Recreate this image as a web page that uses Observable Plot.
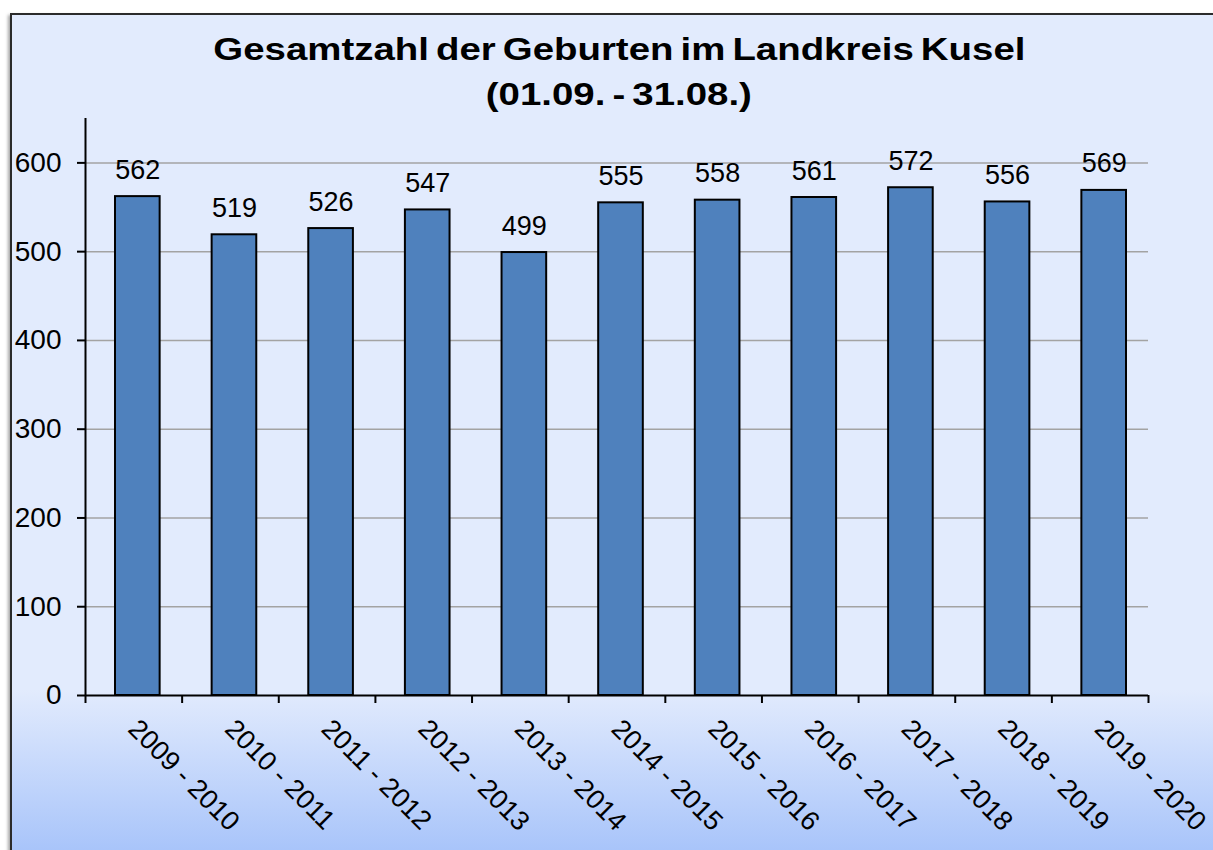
<!DOCTYPE html>
<html>
<head>
<meta charset="utf-8">
<script src="https://cdn.jsdelivr.net/npm/d3@7"></script>
<script src="https://cdn.jsdelivr.net/npm/@observablehq/plot@0.6"></script>
<style>
  html, body { margin: 0; padding: 0; background: #ffffff; }
  #wrap { position: relative; width: 1213px; height: 850px; overflow: hidden; background: #ffffff; }
  #panel {
    position: absolute; left: 10px; top: 13px; width: 1240px; height: 880px;
    border: 2px solid #2b2b2b; box-sizing: border-box;
    background: linear-gradient(to bottom, #e2ebfd 0px, #e2ebfd 675px, #a8c4fa 837px, #a4c1fa 880px);
    box-shadow: -2px 2px 3px rgba(0,0,0,0.35);
  }
  #title {
    position: absolute; left: 0; top: 27px; width: 1238px; text-align: center;
    font-family: "Liberation Sans", Arial, sans-serif; font-weight: bold; font-size: 32px;
    line-height: 45px; color: #000; word-spacing: -3px;
  }
  #title span { display: inline-block; transform: scaleX(1.2); transform-origin: center; }
  #chart { position: absolute; left: 0; top: 0; }
</style>
</head>
<body>
<div id="wrap">
  <div id="panel"></div>
  <div id="title"><span>Gesamtzahl der Geburten im Landkreis Kusel</span><br><span>(01.09. - 31.08.)</span></div>
  <div id="chart"></div>
</div>
<script>
const categories = ["2009 - 2010", "2010 - 2011", "2011 - 2012", "2012 - 2013", "2013 - 2014", "2014 - 2015", "2015 - 2016", "2016 - 2017", "2017 - 2018", "2018 - 2019", "2019 - 2020"];
const births = [562, 519, 526, 547, 499, 555, 558, 561, 572, 556, 569];
const yTicks = [0, 100, 200, 300, 400, 500, 600];
const gridTicks = [100, 200, 300, 400, 500, 600];

const table = categories.map((period, i) => ({period, births: births[i]}));

const W = 1213, H = 850, mL = 85, mR = 65, mT = 118, mB = 155;
const bw = (W - mL - mR) / categories.length;

const chart = Plot.plot({
  width: W,
  height: H,
  marginLeft: mL,
  marginRight: mR,
  marginTop: mT,
  marginBottom: mB,
  style: {background: "transparent", fontFamily: "'Liberation Sans', Arial, sans-serif", color: "#000"},
  x: {domain: categories, padding: 0, round: false, axis: null},
  y: {domain: [0, 650], axis: null},
  marks: [
    Plot.gridY({ticks: gridTicks, stroke: "#a3a3a3", strokeOpacity: 1, strokeWidth: 1.5}),
    Plot.barY(table, {x: "period", y: "births", fill: "#4f81bd", stroke: "#000", strokeWidth: 2, insetLeft: 30, insetRight: 22}),
    Plot.ruleY([0], {stroke: "#000", strokeWidth: 2}),
    Plot.ruleX([categories[0]], {y1: 0, y2: 650, dx: -bw / 2, stroke: "#000", strokeWidth: 2}),
    Plot.axisY({ticks: yTicks, tickSize: 8, tickPadding: 16, fontSize: 28, strokeWidth: 2, label: null, tickFormat: d => String(d)}),
    Plot.axisX({ticks: categories, tickSize: 8, tickFormat: () => "", label: null, strokeWidth: 2, dx: -bw / 2}),
    Plot.axisX({ticks: [categories[categories.length - 1]], tickSize: 8, tickFormat: () => "", label: null, strokeWidth: 2, dx: bw / 2}),
    Plot.text(categories, {x: d => d, frameAnchor: "bottom", rotate: 45, textAnchor: "start", lineAnchor: "bottom", dx: -7, dy: 35, fontSize: 27, fill: "#000"}),
    Plot.text(table, {x: "period", y: "births", text: d => String(d.births), lineAnchor: "bottom", dx: 4, dy: -18, fontSize: 27, fill: "#000"})
  ]
});
document.getElementById("chart").appendChild(chart);
</script>
</body>
</html>
